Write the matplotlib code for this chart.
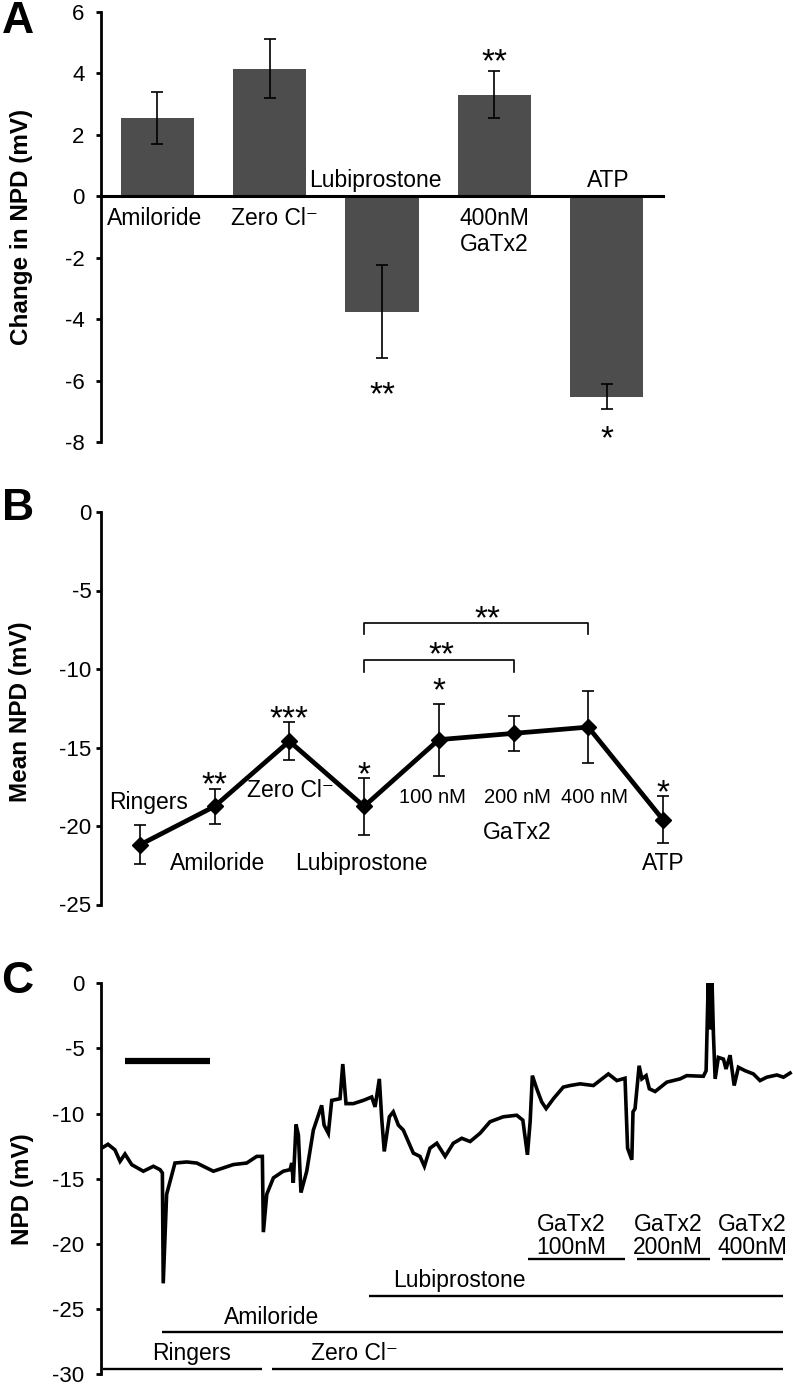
import matplotlib
matplotlib.use('Agg')
import matplotlib.pyplot as plt
import numpy as np

plt.rcParams['font.family'] = ['Liberation Sans', 'DejaVu Sans']
plt.rcParams['axes.unicode_minus'] = False

# ---- panel A: change in NPD ----
a_labels = ['Amiloride', 'Zero Cl⁻', 'Lubiprostone', '400nM\nGaTx2', 'ATP']
a_means = [2.55, 4.15, -3.76, 3.31, -6.52]
a_sem = [0.85, 0.96, 1.51, 0.77, 0.42]
a_stars = ['', '', '**', '**', '*']

# ---- panel B: mean NPD ----
b_labels = ['Ringers', 'Amiloride', 'Zero Cl⁻', 'Lubiprostone',
            '100 nM', '200 nM', '400 nM', 'ATP']
b_means = [-21.2, -18.75, -14.6, -18.75, -14.5, -14.1, -13.7, -19.6]
b_sem = [1.25, 1.1, 1.2, 1.8, 2.3, 1.1, 2.3, 1.5]
b_stars = ['', '**', '***', '*', '*', '', '', '*']

# ---- panel C: NPD trace (time in min) ----
trace_t = [0.04, 0.41, 0.82, 1.12, 1.41, 1.81, 2.49, 3.08, 3.47, 3.61, 3.66, 3.86,
           4.35, 5.04, 5.63, 6.61, 7.78, 8.57, 9.16, 9.49, 9.55, 9.75, 10.14, 10.72,
           11.12, 11.22, 11.31, 11.47, 11.61, 11.76, 12.10, 12.49, 12.98, 13.12, 13.37,
           13.57, 14.06, 14.22, 14.41, 14.84, 15.43, 15.92, 16.12, 16.37, 16.51, 16.66,
           16.96, 17.19, 17.49, 17.78, 18.37, 18.76, 19.02, 19.35, 19.75, 20.24, 20.72,
           21.22, 21.71, 22.29, 22.88, 23.66, 24.45, 24.81, 25.08, 25.24, 25.37, 25.63,
           25.92, 26.18, 26.61, 27.19, 27.59, 28.18, 28.96, 29.84, 30.34, 30.82, 30.97,
           31.22, 31.29, 31.41, 31.65, 31.81, 32.06, 32.25, 32.59, 33.28, 34.06, 34.45,
           35.43, 35.59, 35.71, 35.82, 35.94, 36.02, 36.12, 36.31, 36.61, 36.76, 37.00,
           37.24, 37.49, 37.88, 38.37, 38.76, 39.16, 39.75, 40.14, 40.53]
trace_v = [-12.66, -12.36, -12.79, -13.67, -13.11, -13.93, -14.43, -14.05, -14.31, -14.56,
           -23.04, -16.20, -13.80, -13.72, -13.80, -14.43, -13.92, -13.80, -13.29, -13.29,
           -19.11, -16.20, -14.94, -14.43, -14.31, -13.80, -15.32, -10.84, -11.65, -16.07,
           -14.43, -11.27, -9.37, -10.89, -11.52, -8.99, -8.86, -6.20, -9.24, -9.24, -8.99,
           -8.73, -9.49, -7.34, -10.38, -12.91, -10.25, -9.87, -10.89, -11.27, -13.04,
           -13.29, -14.05, -12.66, -12.28, -13.29, -12.28, -11.90, -12.15, -11.52, -10.63,
           -10.25, -10.13, -10.51, -13.17, -10.63, -7.09, -8.10, -9.11, -9.62, -8.86, -7.97,
           -7.85, -7.72, -7.85, -6.96, -7.47, -7.29, -12.66, -13.55, -9.87, -9.62, -6.33,
           -7.34, -7.09, -8.10, -8.31, -7.59, -7.34, -7.09, -7.14, -6.71, 0.0, -3.55, 0.0,
           -3.93, -7.34, -5.69, -5.82, -6.58, -5.52, -7.85, -6.45, -6.71, -6.96, -7.47,
           -7.21, -7.04, -7.21, -6.89]

# treatments: (label, start, end, bar level)
treat_names = ['Ringers', 'Zero Cl⁻', 'Amiloride', 'Lubiprostone',
               'GaTx2\n100nM', 'GaTx2\n200nM', 'GaTx2\n400nM']
treat_start = [0.12, 10.06, 3.59, 15.76, 25.1, 31.5, 36.5]
treat_end = [9.47, 40.12, 40.12, 40.12, 30.8, 35.8, 40.12]
treat_level = [-29.6, -29.6, -26.8, -24.0, -21.2, -21.2, -21.2]
treat_text_x = [5.3, 14.9, 10.06, 21.1, 27.65, 33.35, 38.3]

W, H = 793, 1387
fig = plt.figure(figsize=(W / 100, H / 100), dpi=100)

TXT = 16.5


def px_axes(x0, y0, x1, y1):
    return fig.add_axes([x0 / W, 1 - y1 / H, (x1 - x0) / W, (y1 - y0) / H])


def style_left(ax, pad):
    for s in ['top', 'right']:
        ax.spines[s].set_visible(False)
    ax.spines['left'].set_linewidth(2.0)
    ax.tick_params(axis='y', direction='out', length=3.8, width=2.0,
                   labelsize=16, pad=pad)


def star(ax, x, y, s, size=24):
    # y is the visual centre of the asterisks
    ax.annotate(s, (x, y), xytext=(0, -0.57 * size), textcoords='offset points',
                ha='center', va='baseline', fontsize=size)


# ---------------- A ----------------
axA = px_axes(101, 12, 663, 442)
style_left(axA, 8)
xa = np.arange(len(a_means))
axA.bar(xa, a_means, width=0.65, color='#4d4d4d', zorder=2)
axA.errorbar(xa, a_means, yerr=a_sem, fmt='none', ecolor='black',
             elinewidth=1.2, capsize=4, capthick=1.2, zorder=3)
axA.set_xlim(-0.5, 4.5)
axA.set_ylim(-8, 6)
axA.set_yticks(range(-8, 7, 2))
axA.spines['bottom'].set_position(('data', 0))
axA.spines['bottom'].set_linewidth(2.2)
axA.spines['bottom'].set_zorder(4)
axA.set_xticks([])
a_text_pos = [(-0.02, -0.71), (1.04, -0.71), (1.94, 0.52), (3.0, -1.15), (4.01, 0.52)]
for lab, (tx, ty) in zip(a_labels, a_text_pos):
    axA.text(tx, ty, lab, ha='center', va='center', fontsize=TXT, linespacing=1.15)
a_star_y = [0, 0, -6.14, 4.68, -7.6]
for i, s in enumerate(a_stars):
    if s:
        star(axA, i, a_star_y[i], s)
fig.text(22 / W, 1 - 227 / H, 'Change in NPD (mV)', rotation=90, ha='center',
         va='center', fontsize=17.5, fontweight='bold')
fig.text(0.002, 0.999, 'A', ha='left', va='top', fontsize=32, fontweight='bold')

# ---------------- B ----------------
axB = px_axes(101, 512, 793, 904.5)
style_left(axB, 3)
axB.spines['bottom'].set_visible(False)
xb = np.arange(len(b_means))
axB.errorbar(xb, b_means, yerr=b_sem, fmt='none', ecolor='black',
             elinewidth=1.2, capsize=4, capthick=1.2, zorder=2)
axB.plot(xb, b_means, color='black', lw=3.4, marker='D', markersize=8.5, zorder=3)
axB.set_xlim(-0.52, 8.74)
axB.set_ylim(-25, 0)
axB.set_yticks(range(-25, 1, 5))
axB.set_xticks([])
b_text_pos = [(0.11, -18.53), (1.04, -22.4), (2.01, -17.77), (2.97, -22.4),
              (3.92, -18.2), (5.05, -18.2), (6.09, -18.2), (7.01, -22.4)]
for lab, (tx, ty) in zip(b_labels, b_text_pos):
    axB.text(tx, ty, lab, ha='center', va='center',
             fontsize=14.5 if 'nM' in lab else TXT)
axB.text(5.05, -20.4, 'GaTx2', ha='center', va='center', fontsize=TXT)
b_star_y = [0, -16.75, -12.55, -16.1, -10.8, 0, 0, -17.26]
for i, s in enumerate(b_stars):
    if s:
        star(axB, i, b_star_y[i], s)
# comparison brackets vs lubiprostone
for x_end, y_br, x_st, y_st in [(6, -7.05, 4.65, -6.18), (5, -9.43, 4.04, -8.47)]:
    axB.plot([3, 3, x_end, x_end], [y_br - 0.75, y_br, y_br, y_br - 0.75],
             color='black', lw=1.2)
    star(axB, x_st, y_st, '**')
fig.text(21 / W, 1 - 712 / H, 'Mean NPD (mV)', rotation=90, ha='center',
         va='center', fontsize=17.5, fontweight='bold')
fig.text(0.002, 1 - 488 / H, 'B', ha='left', va='top', fontsize=32, fontweight='bold')

# ---------------- C ----------------
axC = px_axes(101, 983.3, 793, 1374)
style_left(axC, 8)
axC.spines['bottom'].set_visible(False)
axC.plot(trace_t, trace_v, color='black', lw=2.6, solid_joinstyle='miter')
axC.set_xlim(0, 40.7)
axC.set_ylim(-30, 0)
axC.set_yticks(range(-30, 1, 5))
axC.set_xticks([])
# 5 min scale bar
axC.plot([1.4, 6.4], [-5.97, -5.97], color='black', lw=4.5, solid_capstyle='butt')
for name, t0, t1, lev, tx in zip(treat_names, treat_start, treat_end, treat_level, treat_text_x):
    axC.plot([t0, t1], [lev, lev], color='black', lw=1.7, solid_capstyle='butt', clip_on=False)
    if name.startswith('GaTx2'):
        axC.text(tx, lev + 1.8, name, ha='center', va='center', fontsize=TXT, linespacing=1.05)
    else:
        axC.text(tx, lev + 1.15, name, ha='center', va='center', fontsize=TXT)
fig.text(22 / W, 1 - 1189 / H, 'NPD (mV)', rotation=90, ha='center',
         va='center', fontsize=17.5, fontweight='bold')
fig.text(0.002, 1 - 961 / H, 'C', ha='left', va='top', fontsize=32, fontweight='bold')

fig.savefig('out.png', dpi=100)
